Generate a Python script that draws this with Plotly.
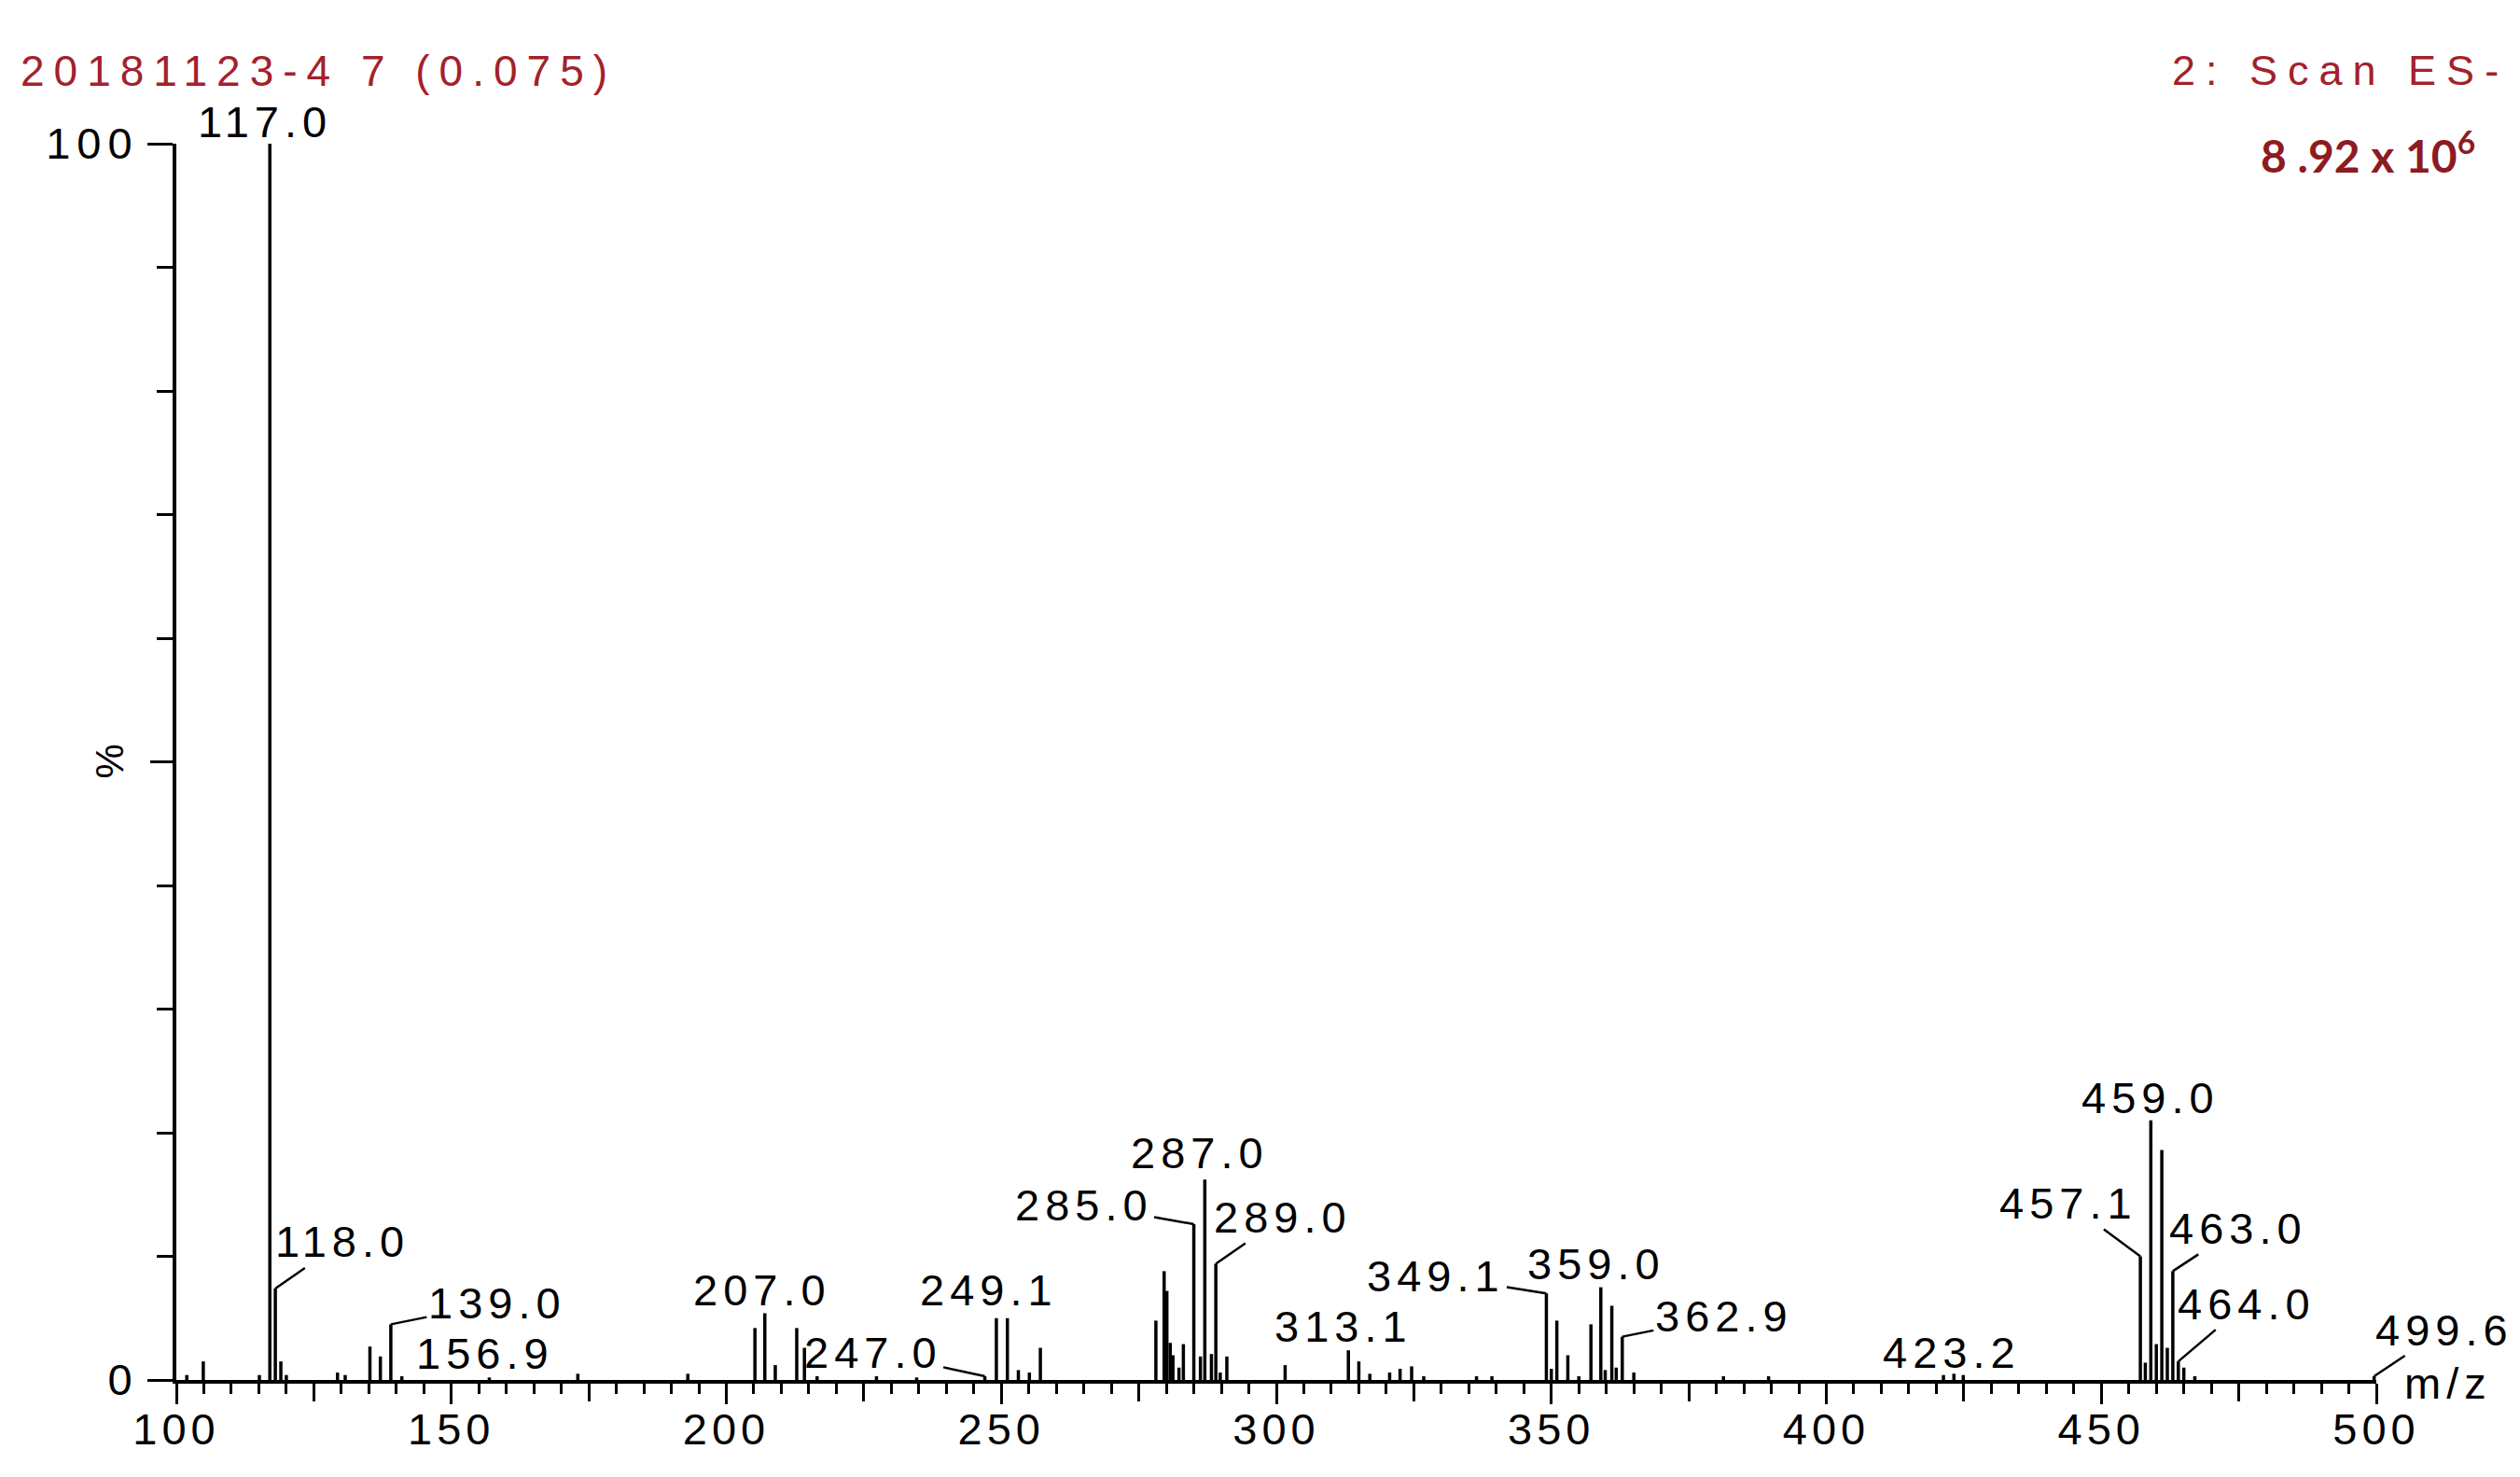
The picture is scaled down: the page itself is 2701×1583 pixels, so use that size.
import plotly.graph_objects as go

# ESI- scan, relative intensity (%)
mz = [101.9, 104.9, 115.1, 117.0, 118.0, 119.0, 120.0, 129.3, 130.7, 135.2,
      137.1, 139.0, 141.0, 156.9, 173.0, 193.0, 205.2, 207.0, 208.9, 212.8,
      214.2, 216.5, 227.3, 234.6, 247.0, 249.1, 251.1, 253.1, 255.1, 257.1,
      278.1, 279.6, 280.1, 280.7, 281.2, 282.3, 283.1, 285.0, 286.2, 287.0,
      288.2, 289.0, 289.8, 291.0, 301.6, 313.1, 315.0, 317.0, 320.6, 322.5,
      324.6, 326.8, 336.4, 339.2, 349.1, 350.0, 351.0, 353.0, 355.0, 357.2,
      359.0, 359.8, 361.0, 361.8, 362.9, 365.0, 381.3, 389.5, 421.3, 423.2,
      424.9, 457.1, 458.0, 459.0, 460.0, 461.0, 462.0, 463.0, 464.0, 465.0,
      467.0, 499.6]
intensity = [0.4, 1.5, 0.4, 100.0, 7.4, 1.5, 0.4, 0.6, 0.4, 2.7,
             1.9, 4.5, 0.3, 0.2, 0.5, 0.5, 4.2, 5.4, 1.2, 4.2,
             2.6, 0.3, 0.3, 0.2, 0.3, 5.0, 5.0, 0.8, 0.6, 2.6,
             4.8, 8.8, 7.2, 3.0, 2.0, 1.0, 2.9, 12.6, 1.9, 16.2,
             2.1, 9.4, 0.6, 1.9, 1.2, 2.4, 1.5, 0.5, 0.6, 0.9,
             1.1, 0.3, 0.3, 0.3, 7.0, 0.9, 4.8, 2.0, 0.3, 4.5,
             7.5, 0.8, 6.0, 1.0, 3.5, 0.6, 0.3, 0.3, 0.4, 0.5,
             0.4, 10.0, 1.4, 21.0, 2.9, 18.6, 2.6, 8.8, 1.5, 1.0,
             0.3, 0.3]

# labelled peaks
label_mz = [117.0, 118.0, 139.0, 156.9, 207.0, 247.0, 249.1, 285.0, 287.0,
            289.0, 313.1, 349.1, 359.0, 362.9, 423.2, 457.1, 459.0, 463.0,
            464.0, 499.6]

# labelled ticks, plus the unlabelled long ticks in between
x_ticks = list(range(100, 501, 50))
x_mid_ticks = list(range(125, 500, 50))
y_ticks = [0, 100]
y_mid_ticks = [50]

sample_text = "20181123-4 7 (0.075)"
scan_text = "2: Scan ES-"
scale_text = "8 .92 x 10<sup>6</sup>"

# label placement: leader line (ax, ay) or text straight above the peak (xshift, yshift)
label_place = {
    117.0: ("above", -5, -5), 118.0: ("line", 72, -50), 139.0: ("line", 114, -23),
    156.9: ("above", -4, -3), 207.0: ("above", -3, -4), 247.0: ("line", -120, -26),
    249.1: ("above", -8, 2), 285.0: ("line", -118, -21), 287.0: ("above", -5, 0),
    289.0: ("line", 72, -50), 313.1: ("above", -5, -3), 349.1: ("line", -118, -19),
    359.0: ("above", -5, -3), 362.9: ("line", 109, -22), 423.2: ("above", -2, -6),
    457.1: ("line", -77, -57), 459.0: ("above", 0, -4), 463.0: ("line", 70, -46),
    464.0: ("line", 73, -62), 499.6: ("line", 75, -50),
}

W, H = 2701, 1583
M_L, M_R, M_T, M_B = 181, 162, 146, 112
FONT = "Liberation Sans, Arial, sans-serif"
RED = "#a3212b"


def spaced(s, ls):
    return f'<span style="letter-spacing:{ls}px">{s}</span>'


def paper_x(px):
    return (px - M_L) / (W - M_L - M_R)


def paper_y(py):
    return (H - M_B - py) / (H - M_T - M_B)


# stick spectrum: one vertical segment per peak
xs, ys = [], []
for m, h in zip(mz, intensity):
    xs += [m, m, None]
    ys += [0, h, None]

fig = go.Figure()
fig.add_trace(go.Scatter(x=xs, y=ys, mode="lines", line=dict(color="black", width=3.5),
                         hoverinfo="skip", showlegend=False, cliponaxis=False))
# empty trace so the overlay axes (long unlabelled ticks) get drawn
fig.add_trace(go.Scatter(x=[], y=[], xaxis="x2", yaxis="y2", showlegend=False,
                         hoverinfo="skip"))

height_of = dict(zip(mz, intensity))
for m in label_mz:
    kind, dx, dy = label_place[m]
    txt = spaced(f"{m:.1f}", 6)
    if kind == "line":
        fig.add_annotation(x=m, y=height_of[m], text=txt, showarrow=True, arrowhead=0,
                           arrowwidth=2.5, arrowcolor="black", ax=dx, ay=dy, standoff=0,
                           font=dict(family=FONT, size=47, color="black"))
    else:
        fig.add_annotation(x=m, y=height_of[m], text=txt, showarrow=False,
                           xanchor="center", yanchor="bottom", xshift=dx, yshift=dy,
                           font=dict(family=FONT, size=47, color="black"))

# header texts
fig.add_annotation(xref="paper", yref="paper", x=paper_x(12), y=paper_y(68),
                   xanchor="left", yanchor="middle", showarrow=False,
                   text=spaced(sample_text, 10), font=dict(family=FONT, size=46, color=RED))
fig.add_annotation(xref="paper", yref="paper", x=paper_x(2683), y=paper_y(68),
                   xanchor="right", yanchor="middle", showarrow=False,
                   text=spaced(scan_text, 11), font=dict(family=FONT, size=45, color=RED))
fig.add_annotation(xref="paper", yref="paper", x=paper_x(2647), y=paper_y(155),
                   xanchor="right", yanchor="middle", showarrow=False,
                   text=scale_text, font=dict(family="Lato, sans-serif", size=48, color="#8e1b22",
                                              weight="bold"))

# axis captions
fig.add_annotation(x=500, y=0, xanchor="left", yanchor="middle", xshift=28, yshift=-3,
                   showarrow=False, text=spaced("m/z", 6),
                   font=dict(family=FONT, size=47, color="black"))
fig.add_annotation(x=100, y=50, xanchor="center", yanchor="middle", xshift=-72,
                   showarrow=False, text="%", textangle=-90,
                   font=dict(family=FONT, size=42, color="black"))

tick_style = dict(ticks="outside", tickwidth=3, tickcolor="black", showgrid=False,
                  zeroline=False, automargin=False)

fig.update_layout(
    xaxis=dict(range=[100, 500], showline=True, linecolor="black", linewidth=4,
               ticklen=22, tickvals=x_ticks,
               ticktext=[spaced(str(v), 5) for v in x_ticks], ticklabelstandoff=-13,
               tickfont=dict(family=FONT, size=47, color="black"),
               minor=dict(dtick=5, ticks="outside", ticklen=11, tickwidth=3,
                          tickcolor="black", showgrid=False),
               **tick_style),
    yaxis=dict(range=[0, 100], showline=True, linecolor="black", linewidth=4,
               ticklen=27, tickvals=y_ticks,
               ticktext=[spaced(str(v), 7) for v in y_ticks], ticklabelstandoff=0,
               tickfont=dict(family=FONT, size=47, color="black"),
               minor=dict(dtick=10, ticks="outside", ticklen=17, tickwidth=3,
                          tickcolor="black", showgrid=False),
               **tick_style),
    xaxis2=dict(overlaying="x", matches="x", side="bottom", range=[100, 500],
                showline=False, ticklen=22, tickvals=x_mid_ticks,
                showticklabels=False, **tick_style),
    yaxis2=dict(overlaying="y", matches="y", side="left", range=[0, 100],
                showline=False, ticklen=27, tickvals=y_mid_ticks,
                showticklabels=False, **tick_style),
    width=W, height=H, margin=dict(l=M_L, r=M_R, t=M_T, b=M_B),
    plot_bgcolor="white", paper_bgcolor="white", showlegend=False,
)

fig.write_html("out.html")
